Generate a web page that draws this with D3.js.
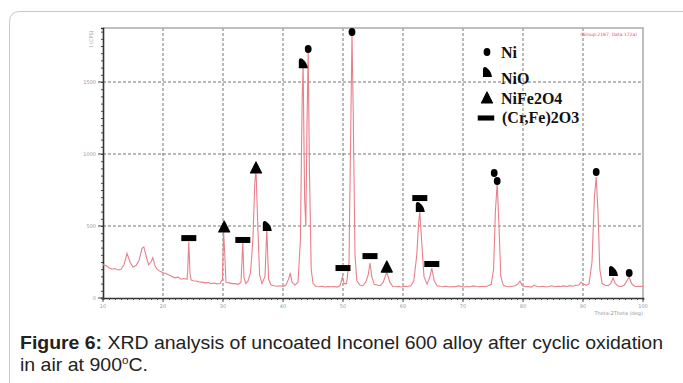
<!DOCTYPE html>
<html lang="en">
  <head>
    <meta charset="UTF-8" />
    <title>XRD Inconel 600</title>
    <style>
      body { margin: 0; background: #fff; }
      svg { display: block; }
    </style>
  </head>
  <body>
    <svg width="683" height="383"></svg>

    <script src="https://d3js.org/d3.v7.min.js"></script>
    <script>
      // 2-theta (deg), intensity (CPS)
      const theta = [
        10, 10.5, 11, 11.5, 12, 12.5, 13, 13.5, 14, 14.5, 15, 15.5, 16, 16.5, 16.8, 17.2, 17.6, 18, 18.3, 18.7,
        19, 19.5, 20, 20.5, 21, 21.5, 22, 22.5, 23, 23.5, 24, 24.1, 24.3, 24.5, 24.7, 25, 25.5, 26, 26.5, 27,
        27.5, 28, 28.5, 29, 29.5, 29.9, 30.1, 30.3, 30.5, 31, 31.5, 32, 32.5, 33, 33.3, 33.5, 33.8, 34.2, 34.6, 35,
        35.3, 35.5, 35.8, 36.1, 36.5, 37, 37.3, 37.6, 38, 38.5, 39, 39.5, 40, 40.5, 41, 41.2, 41.5, 42, 42.5, 42.9,
        43.2, 43.35, 43.6, 43.8, 44, 44.2, 44.4, 44.7, 45, 45.5, 46, 46.5, 47, 47.5, 48, 48.5, 49, 49.5, 49.9, 50.2,
        50.6, 51, 51.3, 51.5, 51.7, 52, 52.3, 52.8, 53.3, 53.8, 54.2, 54.5, 54.8, 55.2, 55.7, 56.2, 56.7, 57.3, 57.8, 58.3,
        58.8, 59.3, 59.8, 60.3, 60.8, 61.3, 61.8, 62.3, 62.6, 62.8, 63.1, 63.5, 64, 64.5, 64.8, 65.2, 65.7, 66.2, 66.7, 67.2,
        67.7, 68.2, 68.7, 69.2, 69.7, 70.2, 70.7, 71.2, 71.7, 72.2, 72.7, 73.2, 73.7, 74.2, 74.7, 75.1, 75.4, 75.7, 76, 76.3,
        76.7, 77.2, 77.7, 78.2, 78.7, 79.2, 79.5, 79.9, 80.4, 80.9, 81.4, 81.9, 82.3, 82.8, 83.3, 83.8, 84.3, 84.8, 85.3, 85.8,
        86.3, 86.8, 87.3, 87.8, 88.3, 88.8, 89.3, 89.7, 90.1, 90.6, 91, 91.5, 91.9, 92.2, 92.5, 92.8, 93.2, 93.7, 94.2, 94.6,
        95, 95.4, 95.9, 96.4, 96.9, 97.3, 97.7, 98.1, 98.6, 99.1, 99.6, 100
      ];
      const counts = [
        230, 225, 210, 200, 205, 195, 200, 230, 310, 250, 215, 225, 260, 345, 355, 290, 230, 250, 280, 220,
        200, 185, 175, 170, 160, 150, 140, 145, 130, 135, 130, 180, 390, 170, 125, 120, 118, 112, 110, 105,
        108, 100, 104, 98, 100, 130, 460, 300, 110, 105, 100, 100, 95, 110, 390, 140, 100, 120, 180, 420,
        800, 890, 500, 160, 100, 150, 485, 130, 90, 85, 82, 85, 80, 90, 140, 175, 110, 90, 110, 400,
        1400, 1620, 700, 500, 1200, 1715, 900, 200, 100, 80, 78, 82, 76, 80, 78, 80, 76, 85, 146, 100,
        100, 250, 1200, 1840, 1300, 300, 120, 90, 85, 110, 160, 243, 150, 95, 90, 85, 110, 180, 110, 80,
        78, 80, 76, 82, 80, 85, 120, 300, 520, 597, 400, 150, 95, 150, 208, 120, 85, 80, 78, 82,
        76, 80, 78, 84, 80, 76, 80, 78, 84, 80, 78, 82, 78, 85, 95, 200, 600, 798, 500, 150,
        90, 80, 78, 82, 85, 100, 118, 85, 78, 80, 76, 90, 80, 78, 82, 76, 80, 85, 78, 82,
        80, 84, 80, 86, 82, 88, 90, 110, 95, 88, 100, 250, 700, 840, 600, 200, 100, 88, 85, 100,
        139, 100, 82, 80, 90, 120, 146, 100, 82, 80, 82, 80
      ];

      // phase markers: phase, 2-theta, intensity at marker
      const markPhase = ["rect", "tri", "rect", "tri", "nio", "nio", "ni", "rect", "ni", "rect", "tri", "rect", "nio", "rect", "ni", "ni", "ni", "nio", "ni"];
      const markTheta = [24.3, 30.2, 33.3, 35.5, 37.3, 43.3, 44.2, 50.0, 51.5, 54.5, 57.3, 62.8, 62.8, 64.8, 75.2, 75.7, 92.2, 95.0, 97.7];
      const markCounts = [416, 493, 403, 903, 500, 1631, 1729, 208, 1847, 291, 215, 694, 632, 236, 868, 812, 875, 187, 174];

      const legendLabels = ["Ni", "NiO", "NiFe2O4", "(Cr,Fe)2O3"];
      const legendPhase = ["ni", "nio", "tri", "rect"];

      const xTicks = [10, 20, 30, 40, 50, 60, 70, 80, 90, 100];
      const yTicks = [0, 500, 1000, 1500];

      const svg = d3.select("svg");

      // card border
      svg.append("path")
        .attr("d", "M9.5,383 L9.5,22 Q9.5,11.5 20,11.5 L683,11.5")
        .attr("fill", "none")
        .attr("stroke", "#c8c8c8")
        .attr("stroke-width", 1);

      const x = d3.scaleLinear().domain([10, 100]).range([103, 643]);
      const y = d3.scaleLinear().domain([0, 1875]).range([298, 28]);

      // grid
      svg.append("g")
        .selectAll("line")
        .data(xTicks.slice(1, -1))
        .join("line")
        .attr("x1", (d) => x(d)).attr("x2", (d) => x(d))
        .attr("y1", y(1875)).attr("y2", y(0))
        .attr("stroke", "#777")
        .attr("stroke-dasharray", "3,2");

      svg.append("g")
        .selectAll("line")
        .data(yTicks.slice(1))
        .join("line")
        .attr("x1", x(10)).attr("x2", x(100))
        .attr("y1", (d) => y(d)).attr("y2", (d) => y(d))
        .attr("stroke", "#777")
        .attr("stroke-dasharray", "3,2");

      // frame top / right
      svg.append("path")
        .attr("d", `M${x(10)},${y(1875)} L${x(100)},${y(1875)} L${x(100)},${y(0)}`)
        .attr("fill", "none")
        .attr("stroke", "#aaa")
        .attr("stroke-width", 1.5);

      // axes
      const yAxis = d3.axisLeft(y).tickValues(d3.range(0, 1876, 50)).tickSize(2).tickFormat("");
      const gy = svg.append("g").attr("transform", `translate(${x(10)},0)`).call(yAxis);
      const xAxis = d3.axisBottom(x).tickValues(d3.range(10, 101, 1)).tickSize(2).tickFormat("");
      const gx = svg.append("g").attr("transform", `translate(0,${y(0)})`).call(xAxis);
      [gy, gx].forEach((g) => {
        g.select(".domain").attr("stroke", "#333").attr("stroke-width", 1.6);
        g.selectAll(".tick line").attr("stroke", "#444");
      });

      svg.append("g")
        .selectAll("line")
        .data(yTicks)
        .join("line")
        .attr("x1", x(10) - 5).attr("x2", x(10))
        .attr("y1", (d) => y(d)).attr("y2", (d) => y(d))
        .attr("stroke", "#444");
      svg.append("g")
        .selectAll("line")
        .data(xTicks)
        .join("line")
        .attr("x1", (d) => x(d)).attr("x2", (d) => x(d))
        .attr("y1", y(0)).attr("y2", y(0) + 4)
        .attr("stroke", "#444");

      svg.append("g")
        .selectAll("text")
        .data(yTicks)
        .join("text")
        .attr("x", x(10) - 7)
        .attr("y", (d) => y(d) + 2)
        .attr("text-anchor", "end")
        .attr("font-family", "DejaVu Sans")
        .attr("font-size", 5)
        .attr("fill", "#999")
        .text((d) => d);

      svg.append("g")
        .selectAll("text")
        .data(xTicks)
        .join("text")
        .attr("x", (d) => x(d))
        .attr("y", y(0) + 10)
        .attr("text-anchor", "middle")
        .attr("font-family", "DejaVu Sans")
        .attr("font-size", 5)
        .attr("fill", "#999")
        .text((d) => d);

      svg.append("text")
        .attr("x", x(100))
        .attr("y", y(0) + 17)
        .attr("text-anchor", "end")
        .attr("font-family", "DejaVu Sans")
        .attr("font-size", 5)
        .attr("fill", "#999")
        .text("Theta-2Theta (deg)");

      svg.append("text")
        .attr("transform", `translate(${x(10) - 10},${y(1800)}) rotate(-90)`)
        .attr("text-anchor", "middle")
        .attr("font-family", "DejaVu Sans")
        .attr("font-size", 5)
        .attr("fill", "#999")
        .text("I (CPS)");

      svg.append("text")
        .attr("x", x(99))
        .attr("y", y(1820))
        .attr("text-anchor", "end")
        .attr("font-family", "DejaVu Sans")
        .attr("font-size", 4.5)
        .attr("fill", "#e05060")
        .text("(Group:2187, Data:172a)");

      // pattern
      const pts = theta.map((t, i) => [t, counts[i]]);
      svg.append("path")
        .datum(pts)
        .attr("fill", "none")
        .attr("stroke", "#e8808a")
        .attr("stroke-width", 1.1)
        .attr("d", d3.line().x((d) => x(d[0])).y((d) => y(d[1])));

      // marker shapes
      const shapes = {
        ni: (g) => g.append("ellipse").attr("rx", 3.4).attr("ry", 4),
        nio: (g) => g.append("path").attr("d", "M-4,5 L-4,-3 Q-3.5,-6 -0.5,-4.5 Q4.5,-0.5 5,5 Z"),
        tri: (g) => g.append("path").attr("d", "M0,-6 L5.5,5 L-5.5,5 Z").attr("stroke", "#000").attr("stroke-linejoin", "round").attr("stroke-width", 1.2),
        rect: (g) => g.append("rect").attr("x", -7.5).attr("y", -3).attr("width", 15).attr("height", 6),
      };

      markPhase.forEach((p, i) => {
        const g = svg.append("g")
          .attr("transform", `translate(${x(markTheta[i])},${y(markCounts[i])})`)
          .attr("fill", "#000");
        shapes[p](g);
      });

      // legend
      const legend = svg.append("g").attr("transform", "translate(487,52)");
      legendLabels.forEach((lab, i) => {
        const row = legend.append("g").attr("transform", `translate(0,${[0, 20, 46, 66][i]})`);
        const m = row.append("g").attr("fill", "#000");
        shapes[legendPhase[i]](m);
        if (legendPhase[i] === "rect") m.attr("transform", "translate(-1,0) scale(1.1,0.85)");
        row.append("text")
          .attr("x", legendPhase[i] === "rect" ? 15 : 14)
          .attr("y", [6, 12, 6, 5][i])
          .attr("font-family", "Liberation Serif")
          .attr("font-weight", "bold")
          .attr("font-size", 16)
          .attr("fill", "#111")
          .text(lab);
      });

      // caption
      const capFont = "'Liberation Sans Narrow', 'Liberation Sans', Arial";
      const cap1 = svg.append("text")
        .attr("x", 20)
        .attr("y", 349)
        .attr("font-family", capFont)
        .attr("font-size", 18.5)
        .attr("fill", "#222")
        .attr("textLength", 643)
        .attr("lengthAdjust", "spacingAndGlyphs");
      cap1.append("tspan").attr("font-weight", "bold").text("Figure 6:");
      cap1.append("tspan").text(" XRD analysis of uncoated Inconel 600 alloy after cyclic oxidation");

      const cap2 = svg.append("text")
        .attr("x", 20)
        .attr("y", 371)
        .attr("font-family", capFont)
        .attr("font-size", 18.5)
        .attr("fill", "#222")
        .attr("textLength", 128)
        .attr("lengthAdjust", "spacingAndGlyphs");
      cap2.append("tspan").text("in air at 900");
      cap2.append("tspan").attr("font-size", 11).attr("dy", -7).text("o");
      cap2.append("tspan").attr("dy", 7).text("C.");
    </script>
  </body>
</html>
